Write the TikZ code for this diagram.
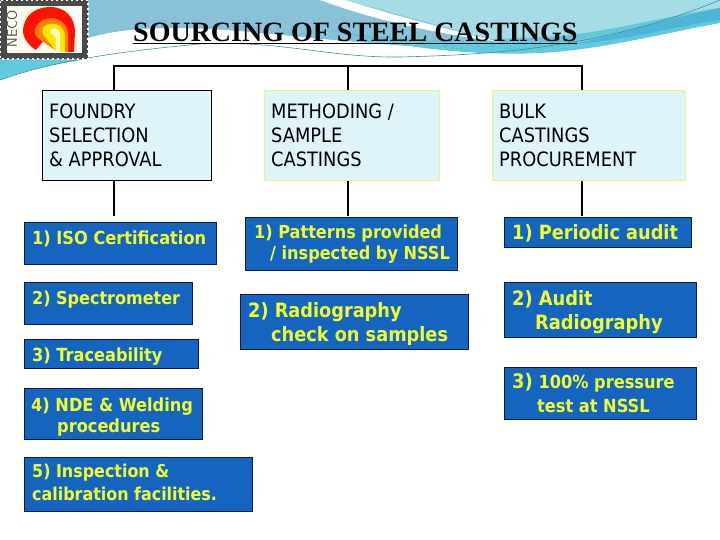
\documentclass[tikz,border=0pt]{standalone}
\usepackage{fontspec}
\setmainfont{Liberation Serif}
\newfontfamily\tahfont{DejaVu Sans Condensed}
\definecolor{boxblue}{HTML}{1565C0}
\definecolor{boxline}{HTML}{0A1A40}
\definecolor{boxtext}{HTML}{EEFF33}
\definecolor{headfill}{HTML}{DFF4F9}
\definecolor{headline}{HTML}{E6F28C}
\definecolor{swoopa}{HTML}{88C2D9}
\definecolor{swoopb}{HTML}{A6DCE5}
\definecolor{swoopc}{HTML}{62C9DD}
\definecolor{swoopd}{HTML}{4DB6D6}
\definecolor{stampgray}{HTML}{4A4A4A}
\tikzset{
  headblk/.style={draw=headline,fill=headfill,line width=1pt,anchor=north west,inner sep=0pt},
  headblkk/.style={headblk,draw=black},
  blublk/.style={draw=boxline,fill=boxblue,line width=1pt,anchor=north west,inner sep=0pt},
  headtxt/.style={anchor=north west,inner sep=0pt,align=left,text=black,font=\tahfont\fontsize{19.8}{24}\selectfont},
  blutxt/.style={anchor=north west,inner sep=0pt,align=left,text=boxtext},
  conn/.style={line width=1.6pt,black}
}
\newcommand{\blufont}[2]{\tahfont\bfseries\fontsize{#1}{#2}\selectfont}
\begin{document}
\begin{tikzpicture}[x=1pt,y=-1pt]
  \useasboundingbox (0,0) rectangle (720,540);
  % swoosh at the top
  \fill[swoopa] (88,0) -- (400,0) -- (560,48) .. controls (450,52) and (380,44) .. (300,37)
    .. controls (220,28) and (140,22) .. (88,38) -- cycle;
  \fill[swoopb] (345,0) -- (720,0) -- (720,8) .. controls (660,28) and (610,40) .. (560,48) -- (500,42) -- cycle;
  \fill[swoopc] (320,28) .. controls (400,42) and (450,42) .. (560,36) .. controls (620,30) and (670,15) .. (720,8)
    -- (720,23) .. controls (660,34) and (600,50) .. (540,53) .. controls (470,56) and (400,48) .. (320,28) -- cycle;
  \fill[swoopd] (720,8) .. controls (670,18) and (620,34) .. (575,44) .. controls (630,40) and (680,25) .. (720,20) -- cycle;
  \fill[white] (320,0) -- (345,0) .. controls (400,17) and (450,30) .. (500,42) .. controls (440,34) and (380,22) .. (320,0) -- cycle;
  \fill[swoopc] (0,59) -- (88,59) .. controls (55,64) and (25,70) .. (0,80) -- cycle;
  \draw[swoopc!70!black,line width=.6pt] (0,80) .. controls (40,66) and (90,54) .. (200,44)
    .. controls (280,40) and (330,58) .. (400,57) .. controls (480,55) and (600,50) .. (720,0);
  % logo
  \fill[stampgray] (0,0) rectangle (88,59);
  \fill[white!95!yellow] (7,6) rectangle (82,53);
  \draw[white,line width=1.6pt,dash pattern=on 2pt off 3pt] (1,0) -- (88,0) -- (88,59) -- (0,59) -- (0,0);
  \node[rotate=90,inner sep=0pt,text=stampgray,font=\sffamily\fontsize{14}{14}\selectfont] (necotxt) at (12,29) {NECO};
  \fill[red!85!orange] (36,50) .. controls (28,45) and (23,38) .. (23,30) .. controls (24,15) and (36,7) .. (50,7)
    .. controls (66,7) and (75,18) .. (75,32) -- (74,52) -- (60,52) -- (60,30) -- (46,38) -- cycle;
  \fill[orange] (42,41) .. controls (36,38) and (34,34) .. (35,29) .. controls (38,21) and (45,18) .. (52,18)
    .. controls (62,19) and (68,26) .. (68,35) -- (68,52) -- (58,52) -- cycle;
  \fill[yellow!90!orange] (44,36) .. controls (40,30) and (43,25) .. (50,24) .. controls (58,23) and (65,28) .. (65,36)
    -- (65,52) -- (57,52) -- cycle;
  \fill[yellow!25] (50,32) .. controls (50,27) and (60,26) .. (60,36) -- (60,52) -- (56,52) -- (56,38) -- cycle;
  % title
  \node[anchor=base west,inner sep=0pt,font=\bfseries\fontsize{28}{28}\selectfont] (title) at (133,42)
    {\underline{SOURCING OF STEEL CASTINGS}};
  % heads
  \node[headblkk,minimum width=169pt,minimum height=90pt] (foundry) at (42,90) {};
  \node[headblk,minimum width=175pt,minimum height=90pt] (methoding) at (264,90) {};
  \node[headblk,minimum width=193pt,minimum height=90pt] (bulk) at (492,90) {};
  \node[headtxt] (foundrytxt) at (49,103.5) {FOUNDRY\\SELECTION\\\& APPROVAL};
  \node[headtxt] (methodingtxt) at (271,103.5) {METHODING /\\SAMPLE\\CASTINGS};
  \node[headtxt] (bulktxt) at (499,103.5) {BULK\\CASTINGS\\PROCUREMENT};
  % bracket
  \coordinate (busl) at (114,66);
  \coordinate (busm) at (348,66);
  \coordinate (busr) at (582,66);
  \coordinate (dropl) at (114,216);
  \coordinate (dropm) at (348,216);
  \coordinate (dropr) at (582,216);
  \draw[conn] (busl |- foundry.north) -- (busl) -- (busr) -- (busr |- bulk.north);
  \draw[conn] (busm) -- (busm |- methoding.north);
  \draw[conn] (dropl |- foundry.south) -- (dropl);
  \draw[conn] (dropm |- methoding.south) -- (dropm);
  \draw[conn] (dropr |- bulk.south) -- (dropr);
  % left column
  \node[blublk,minimum width=192pt,minimum height=42pt] (iso) at (24,222) {};
  \node[blublk,minimum width=168pt,minimum height=42pt] (spectro) at (24,282) {};
  \node[blublk,minimum width=174pt,minimum height=29pt] (trace) at (24,339) {};
  \node[blublk,minimum width=178pt,minimum height=51pt] (nde) at (24,388) {};
  \node[blublk,minimum width=228pt,minimum height=54pt] (insp) at (24,457) {};
  \node[blutxt,font=\blufont{18}{21}] (isotxt) at (32,230.3) {1) ISO Certification};
  \node[blutxt,font=\blufont{17.8}{21}] (spectrotxt) at (32,290.3) {2) Spectrometer};
  \node[blutxt,font=\blufont{18}{21}] (tracetxt) at (32,347.3) {3) Traceability};
  \node[blutxt,font=\blufont{18}{21}] (ndetxt) at (31,397.3) {4) NDE \& Welding\\\hspace*{26pt}procedures};
  \node[blutxt,font=\blufont{17.7}{23}] (insptxt) at (32,464.3) {5) Inspection \&\\calibration facilities.};
  % middle column
  \node[blublk,minimum width=212pt,minimum height=53pt] (patterns) at (245,217) {};
  \node[blublk,minimum width=228pt,minimum height=55pt] (radio) at (240,294) {};
  \node[blutxt,font=\blufont{17.9}{21}] (patternstxt) at (254,224.5) {1) Patterns provided\\\hspace*{16pt}/ inspected by NSSL};
  \node[blutxt,font=\blufont{19.7}{24}] (radiotxt) at (248,302) {2) Radiography\\\hspace*{23pt}check on samples};
  % right column
  \node[blublk,minimum width=187pt,minimum height=30pt] (audit) at (504,217) {};
  \node[blublk,minimum width=192pt,minimum height=55pt] (auditb) at (504,282) {};
  \node[blublk,minimum width=192pt,minimum height=52pt] (pressure) at (504,367) {};
  \node[blutxt,font=\blufont{19.7}{24}] (audittxt) at (512,224) {1) Periodic audit};
  \node[blutxt,font=\blufont{19.8}{24}] (auditbtxt) at (512,290) {2) Audit\\\hspace*{23pt}Radiography};
  \node[blutxt,font=\blufont{18}{24}] (pressuretxt) at (512,372.8) {{\fontsize{20}{24}\selectfont 3)} 100\% pressure\\\hspace*{25pt}test at NSSL};
\end{tikzpicture}
\end{document}
